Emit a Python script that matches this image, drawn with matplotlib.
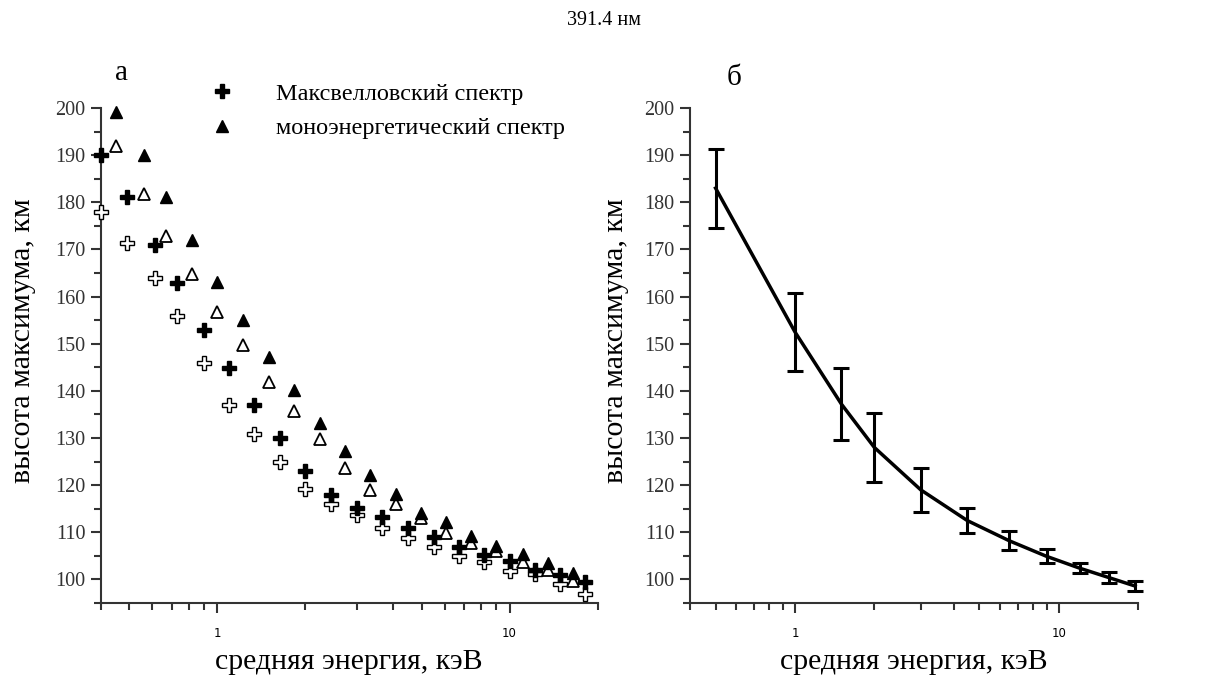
import numpy as np
import matplotlib
matplotlib.use("Agg")
import matplotlib.pyplot as plt
from matplotlib.ticker import FixedLocator, NullFormatter, MultipleLocator

plt.rcParams['font.family'] = ['Liberation Serif', 'DejaVu Serif']

# panel a: filled / open pluses (Maxwellian) and triangles (monoenergetic)
e_plus = [0.40, 0.49, 0.61, 0.73, 0.90, 1.10, 1.34, 1.64, 2.0, 2.45,
          3.0, 3.65, 4.5, 5.5, 6.7, 8.2, 10.0, 12.2, 14.9, 18.1]
h_plus = [190.0, 181.1, 170.9, 162.9, 152.9, 144.9, 137.1, 130.0, 123.0, 118.0,
          115.1, 113.2, 111.0, 109.0, 106.9, 105.1, 103.9, 102.1, 101.0, 99.4]
h_plus_open = [178.0, 171.3, 163.9, 155.9, 145.9, 137.1, 130.9, 125.0, 119.1, 115.9,
               113.6, 110.9, 108.8, 106.8, 104.9, 103.7, 101.8, 101.1, 99.0, 97.0]

e_tri = [0.45, 0.56, 0.67, 0.82, 1.0, 1.22, 1.50, 1.83, 2.24, 2.73,
         3.34, 4.08, 4.96, 6.06, 7.4, 9.0, 11.1, 13.5, 16.5]
h_tri = [199.1, 190.0, 181.2, 172.0, 163.1, 155.0, 147.2, 140.1, 133.2, 127.3,
         122.2, 118.1, 114.2, 112.1, 109.2, 107.2, 105.3, 103.4, 101.3]
h_tri_open = [191.9, 181.8, 172.9, 164.8, 156.8, 149.8, 141.8, 135.7, 129.8, 123.7,
              118.9, 115.9, 113.0, 109.9, 107.8, 106.0, 103.7, 101.9, 99.6]

# panel б: mean curve with error bars
e_mean = [0.5, 1.0, 1.5, 2.0, 3.0, 4.5, 6.5, 9.0, 12.0, 15.5, 19.5]
h_mean = [183.0, 152.5, 137.2, 128.0, 119.0, 112.5, 108.2, 104.9, 102.4, 100.4, 98.6]
h_err = [8.4, 8.3, 7.7, 7.3, 4.7, 2.7, 2.0, 1.5, 1.1, 1.2, 1.1]

legend_labels = ['Максвелловский спектр', 'моноэнергетический спектр']


def style_axes(ax, ylab_x):
    ax.set_xscale('log')
    ax.set_xlim(0.4, 20)
    ax.set_ylim(95, 200)
    for s in ['top', 'right']:
        ax.spines[s].set_visible(False)
    for s in ['left', 'bottom']:
        ax.spines[s].set_linewidth(1.5)
        ax.spines[s].set_color('#333333')
    ax.yaxis.set_major_locator(FixedLocator(range(100, 201, 10)))
    ax.yaxis.set_minor_locator(MultipleLocator(5))
    ax.xaxis.set_major_locator(FixedLocator([1, 10]))
    ax.xaxis.set_minor_locator(FixedLocator([0.4, 0.5, 0.6, 0.7, 0.8, 0.9,
                                             2, 3, 4, 5, 6, 7, 8, 9, 20]))
    ax.xaxis.set_minor_formatter(NullFormatter())
    ax.set_xticklabels(['1', '10'], family='DejaVu Sans', fontsize=8.5)
    ax.tick_params(axis='both', which='major', length=7, width=1.5, color='#333333')
    ax.tick_params(axis='both', which='minor', length=5, width=1.5, color='#333333')
    ax.tick_params(axis='y', labelsize=14.5, labelcolor='#333333', pad=4)
    ax.tick_params(axis='x', pad=10)
    ax.set_xlabel('средняя энергия, кэВ', fontsize=21.5)
    ax.set_ylabel('высота максимума, км', fontsize=21.5)
    ax.xaxis.set_label_coords(0.5, -0.092)
    ax.yaxis.set_label_coords(ylab_x, 0.53)


fig = plt.figure(figsize=(12.08, 6.8), dpi=100)
ax1 = fig.add_axes([0.0836, 0.1132, 0.4111, 0.728])
ax2 = fig.add_axes([0.5712, 0.1132, 0.3709, 0.728])

style_axes(ax1, -0.131)
style_axes(ax2, -0.136)

ax1.plot(e_plus, h_plus_open, 'P', ms=10, mfc='white', mec='black', mew=1.0,
         clip_on=False, zorder=3)
ax1.plot(e_tri, h_tri_open, '^', ms=8, mfc='white', mec='black', mew=1.3,
         clip_on=False, zorder=3)
p1, = ax1.plot(e_plus, h_plus, 'P', ms=10, color='black', clip_on=False, zorder=4)
p2, = ax1.plot(e_tri, h_tri, '^', ms=8, color='black', clip_on=False, zorder=4)

ax1.legend([p1, p2], legend_labels, loc='upper left',
           bbox_to_anchor=(0.1738, 0.878), bbox_transform=fig.transFigure,
           frameon=False, fontsize=17.5, handlelength=1.0, handletextpad=1.7,
           labelspacing=0.5, borderaxespad=0, borderpad=0)

ax2.errorbar(e_mean, h_mean, yerr=h_err, color='black', lw=2.5, elinewidth=2.2,
             capsize=6, capthick=2.2, clip_on=False)

fig.text(0.1002, 0.893, 'а', fontsize=21, ha='center', va='center')
fig.text(0.608, 0.886, 'б', fontsize=21, ha='center', va='center')
fig.text(0.5, 0.97, '391.4 нм', fontsize=14.5, ha='center', va='center')

fig.savefig('out.png', dpi=100)
